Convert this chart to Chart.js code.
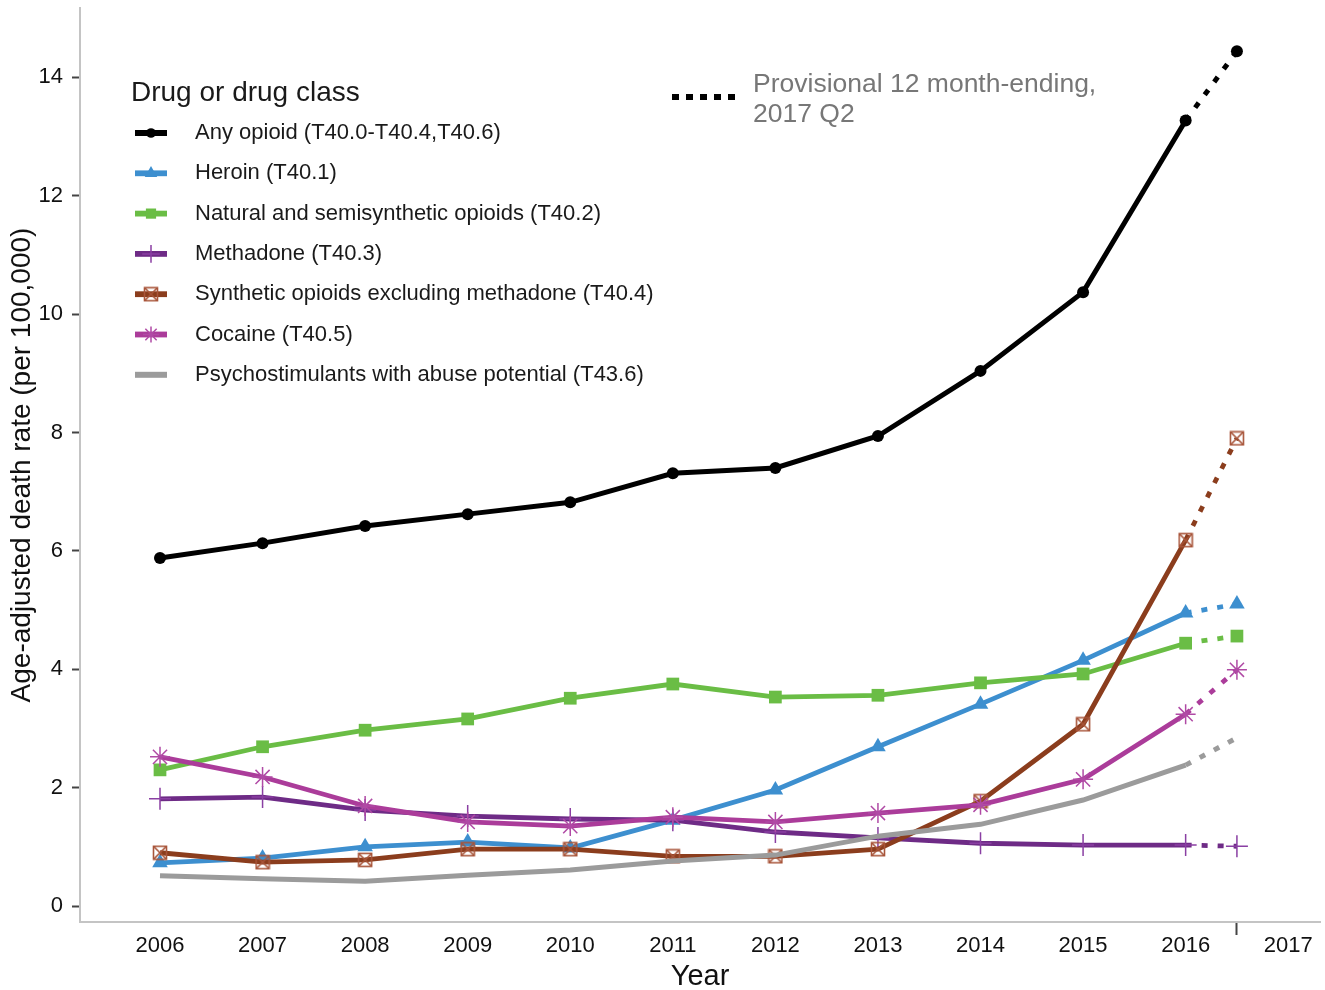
<!DOCTYPE html>
<html>
<head>
<meta charset="utf-8">
<script src="https://cdn.jsdelivr.net/npm/chart.js@4/dist/chart.umd.min.js"></script>
<style>
  body { margin: 0; background: #fff; }
  #wrap { width: 1325px; height: 990px; }
</style>
</head>
<body>
<div id="wrap"><canvas id="chart"></canvas></div>
<script>
const years = [2006, 2007, 2008, 2009, 2010, 2011, 2012, 2013, 2014, 2015, 2016];
const provisionalX = 2016.5;
const xTickLabels = [2006, 2007, 2008, 2009, 2010, 2011, 2012, 2013, 2014, 2015, 2016, 2017];
const yTicks = [0, 2, 4, 6, 8, 10, 12, 14];

const anyOpioid = [5.88, 6.13, 6.42, 6.62, 6.82, 7.31, 7.40, 7.94, 9.04, 10.37, 13.27, 14.44];
const heroin = [0.73, 0.81, 1.00, 1.08, 0.98, 1.45, 1.96, 2.69, 3.41, 4.15, 4.95, 5.10];
const naturalSemi = [2.30, 2.69, 2.97, 3.16, 3.51, 3.75, 3.53, 3.56, 3.77, 3.92, 4.44, 4.56];
const methadone = [1.81, 1.84, 1.62, 1.52, 1.47, 1.45, 1.25, 1.15, 1.06, 1.03, 1.03, 1.01];
const synthetic = [0.90, 0.74, 0.78, 0.96, 0.96, 0.84, 0.84, 0.96, 1.77, 3.07, 6.18, 7.90];
const cocaine = [2.52, 2.18, 1.69, 1.42, 1.35, 1.50, 1.42, 1.57, 1.71, 2.14, 3.24, 3.99];
const psychostim = [0.51, 0.46, 0.42, 0.52, 0.61, 0.76, 0.86, 1.18, 1.38, 1.79, 2.38, 2.84];

const seriesNames = [
  'Any opioid (T40.0-T40.4,T40.6)',
  'Heroin (T40.1)',
  'Natural and semisynthetic opioids (T40.2)',
  'Methadone (T40.3)',
  'Synthetic opioids excluding methadone (T40.4)',
  'Cocaine (T40.5)',
  'Psychostimulants with abuse potential (T43.6)'
];

const FONT = '"Liberation Sans", Arial, sans-serif';

// square with an X inside, used for synthetic opioids
function boxX(color) {
  const c = document.createElement('canvas');
  c.width = 16; c.height = 16;
  const g = c.getContext('2d');
  g.strokeStyle = color;
  g.lineWidth = 1.6;
  g.strokeRect(1.5, 1.5, 13, 13);
  g.beginPath();
  g.moveTo(2, 2); g.lineTo(14, 14);
  g.moveTo(14, 2); g.lineTo(2, 14);
  g.stroke();
  return c;
}

const styles = [
  { color: '#000000', mark: '#000000', point: 'circle', r: 6, bw: 0, w: 5 },
  { color: '#3d8fcf', mark: '#3d8fcf', point: 'triangle', r: 9, bw: 0, w: 4.8 },
  { color: '#6abd45', mark: '#6abd45', point: 'rect', r: 9, bw: 0, w: 4.8 },
  { color: '#6e2b86', mark: '#8a3fa3', point: 'cross', r: 11, bw: 1.5, w: 4.8 },
  { color: '#8b3d1d', mark: '#a8553a', point: boxX('#a8553a'), r: 7, bw: 1.5, w: 4.8 },
  { color: '#ab3c9a', mark: '#b04aa5', point: 'star', r: 10, bw: 1.5, w: 4.8 },
  { color: '#9b9b9b', mark: '#9b9b9b', point: false, r: 0, bw: 0, w: 5 }
];

const allValues = [anyOpioid, heroin, naturalSemi, methadone, synthetic, cocaine, psychostim];
const xs = years.concat([provisionalX]);
const lastIdx = xs.length - 1;

const datasets = allValues.map((vals, i) => {
  const s = styles[i];
  return {
    label: seriesNames[i],
    data: vals.map((v, k) => ({ x: xs[k], y: v })),
    borderColor: s.color,
    borderWidth: s.w,
    backgroundColor: s.mark,
    pointStyle: s.point,
    pointRadius: s.r,
    pointBorderWidth: s.bw,
    pointBorderColor: s.mark,
    pointBackgroundColor: s.mark,
    tension: 0,
    borderCapStyle: 'butt',
    order: 6 - i,
    segment: {
      borderDash: ctx => ctx.p1DataIndex === lastIdx ? [6, 10] : undefined
    }
  };
});

const legendPlugin = {
  id: 'drugLegend',
  afterDraw(chart) {
    const ctx = chart.ctx;
    ctx.save();
    ctx.fillStyle = '#1a1a1a';
    ctx.textBaseline = 'middle';
    ctx.textAlign = 'left';
    ctx.font = '28px ' + FONT;
    ctx.fillText('Drug or drug class', 131, 93);
    ctx.font = '22px ' + FONT;
    const draw = Chart.helpers && Chart.helpers.drawPoint;
    seriesNames.forEach((name, i) => {
      const y = 133 + i * 40.3;
      const s = styles[i];
      ctx.strokeStyle = s.color;
      ctx.lineWidth = s.w + 1;
      ctx.setLineDash([]);
      ctx.beginPath();
      ctx.moveTo(135, y);
      ctx.lineTo(167, y);
      ctx.stroke();
      if (s.point && draw) {
        ctx.fillStyle = s.mark;
        ctx.strokeStyle = s.mark;
        ctx.lineWidth = s.bw;
        draw(ctx, { pointStyle: s.point, rotation: 0, borderWidth: s.bw, radius: s.r * 0.8 }, 151, y);
      }
      ctx.fillStyle = '#1a1a1a';
      ctx.fillText(name, 195, y);
    });
    // provisional note
    ctx.strokeStyle = '#000';
    ctx.lineWidth = 6;
    ctx.setLineDash([7, 7]);
    ctx.beginPath();
    ctx.moveTo(672, 97);
    ctx.lineTo(742, 97);
    ctx.stroke();
    ctx.setLineDash([]);
    ctx.fillStyle = '#777777';
    ctx.font = '26.5px ' + FONT;
    ctx.fillText('Provisional 12 month-ending,', 753, 85);
    ctx.fillText('2017 Q2', 753, 115);
    ctx.restore();
  }
};

new Chart(document.getElementById('chart'), {
  type: 'line',
  data: { datasets },
  plugins: [legendPlugin],
  options: {
    responsive: true,
    maintainAspectRatio: false,
    animation: false,
    layout: { autoPadding: false, padding: { top: 8, right: 5, left: 0, bottom: 0 } },
    plugins: { legend: { display: false }, tooltip: { enabled: false } },
    scales: {
      x: {
        type: 'linear',
        min: 2005.22,
        max: 2017.31,
        afterFit: s => {
          s.height = 68;
          s.paddingLeft = 0; s.paddingRight = 0;
        },
        afterBuildTicks: s => {
          s.ticks = xTickLabels.map(v => ({ value: v })).concat([{ value: provisionalX }]);
        },
        border: { color: '#c4c4c4', width: 2 },
        grid: {
          drawOnChartArea: false,
          drawTicks: true,
          tickLength: 13,
          tickWidth: 2,
          tickColor: c => (c.tick && c.tick.value === provisionalX) ? '#444' : 'rgba(0,0,0,0)'
        },
        ticks: {
          autoSkip: false,
          maxRotation: 0,
          padding: -2,
          color: '#111',
          font: { size: 22, family: FONT },
          callback: v => v === provisionalX ? '' : String(v)
        },
        title: {
          display: true,
          text: 'Year',
          color: '#111',
          padding: { top: 0, bottom: -4 },
          font: { size: 29, family: FONT }
        }
      },
      y: {
        type: 'linear',
        min: -0.27,
        max: 15.17,
        afterFit: s => {
          s.width = 80;
          s.paddingTop = 0; s.paddingBottom = 0;
        },
        afterBuildTicks: s => { s.ticks = yTicks.map(v => ({ value: v })); },
        border: { color: '#c4c4c4', width: 2 },
        grid: {
          drawOnChartArea: false,
          drawTicks: true,
          tickLength: 8,
          tickWidth: 2,
          tickColor: '#444'
        },
        ticks: {
          padding: 9,
          color: '#111',
          font: { size: 22, family: FONT }
        },
        title: {
          display: true,
          text: 'Age-adjusted death rate (per 100,000)',
          color: '#111',
          padding: { top: 5, bottom: 0 },
          font: { size: 28, family: FONT }
        }
      }
    }
  }
});
</script>
</body>
</html>
